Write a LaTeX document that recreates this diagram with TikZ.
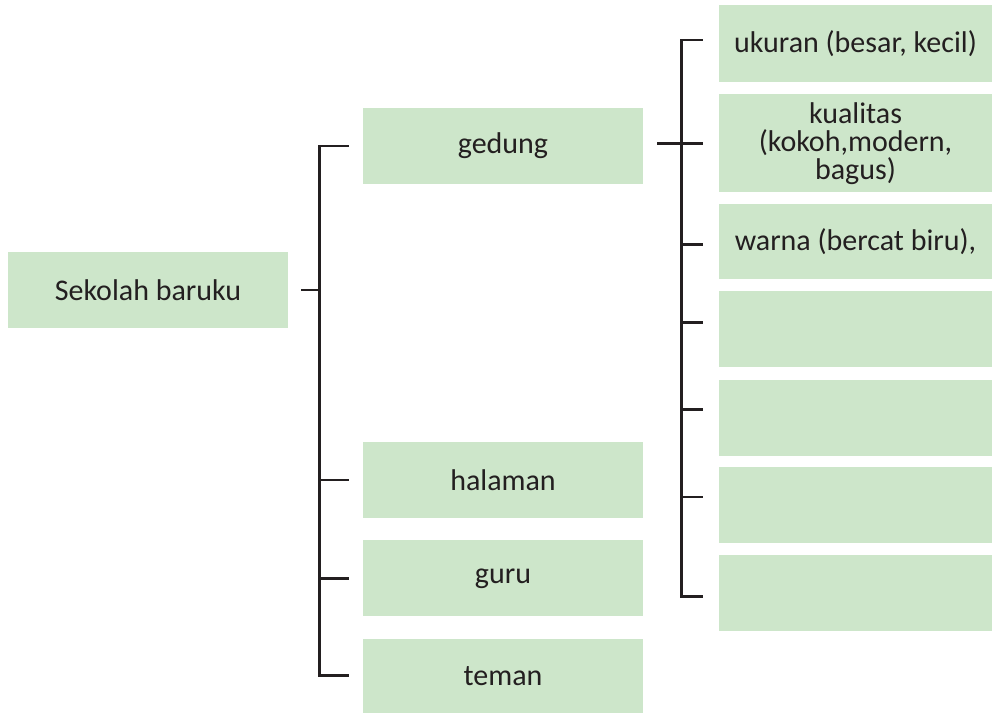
\documentclass[tikz,border=0pt]{standalone}
\usepackage{fontspec}
\setmainfont{Carlito}
\usepackage{tikz}
\usetikzlibrary{positioning,calc}

\definecolor{boxgreen}{HTML}{CDE6CA}
\definecolor{inkgray}{HTML}{231F20}

\begin{document}
\begin{tikzpicture}[x=1pt,y=-1pt,
  box/.style={fill=boxgreen,minimum width=280pt,minimum height=76pt,
              inner sep=0pt,align=center,text=inkgray,
              font=\fontsize{30}{28}\selectfont},
  widebox/.style={box,minimum width=273pt},
  link/.style={draw=inkgray,line width=2.7pt,line cap=rect}]
  \useasboundingbox (0,0) rectangle (992,712);

  % first level
  \node[box] (root) at (148,290) {Sekolah baruku};

  % second level
  \node[box] (gedung) at (503,146) {gedung};
  \node[box] (halaman) at (503,480) {halaman};
  \node[box,below=22pt of halaman] (guru) {guru};
  \node[box,minimum height=74pt,below=22pt of guru] (teman) {teman};

  % third level (gedung)
  \node[widebox,minimum height=77pt] (ukuran) at (855.5,43.5) {ukuran (besar, kecil)};
  \node[widebox,minimum height=98pt,below=12pt of ukuran] (kualitas)
       {kualitas\\(kokoh,modern,\\bagus)};
  \node[widebox,minimum height=75pt,below=11pt of kualitas] (warna) {warna (bercat biru),};
  \node[widebox,below=12pt of warna] (e1) {};
  \node[widebox,below=12pt of e1] (e2) {};
  \node[widebox,below=11pt of e2] (e3) {};
  \node[widebox,below=12pt of e3] (e4) {};

  % left bracket
  \foreach \n in {gedung,halaman,guru,teman}
    \draw[link] ([xshift=-15pt]\n.west) -- ++(-28,0) coordinate (s\n);
  \draw[link] (sgedung) -- (steman);
  \draw[link] ([xshift=14pt]root.east) -- (sgedung |- root.east);

  % right bracket
  \foreach \n/\dy in {ukuran/3.5,kualitas/0,warna/-3.5,e1/7,e2/8,e3/8,e4/-3}
    \draw[link] ([xshift=-17pt,yshift=\dy pt]\n.west) -- ++(-20,0) coordinate (t\n);
  \draw[link] (tukuran) -- (te4);
  \coordinate (gstem) at ([xshift=15pt]gedung.east);
  \draw[link] (gstem |- tkualitas) -- (tkualitas);
\end{tikzpicture}
\end{document}
